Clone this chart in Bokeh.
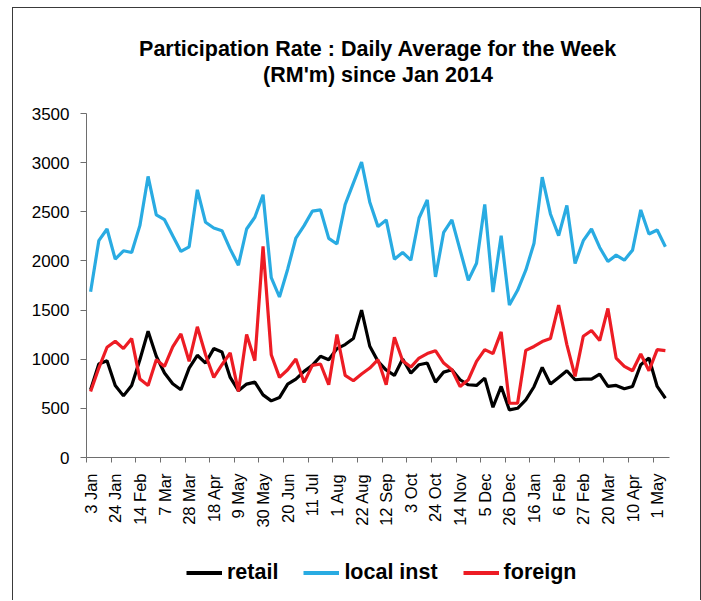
import math
from bokeh.plotting import figure
from bokeh.layouts import column
from bokeh.models import (Range1d, FixedTicker, Title, Legend, LegendItem)
from bokeh.embed import file_html
from bokeh.resources import INLINE

# Weekly data, 3 Jan 2014 .. 8 May 2015 (71 weeks), RM million
retail = [689, 951, 985, 733, 627, 733, 995, 1285, 1030, 859,
          750, 689, 910, 1040, 961, 1108, 1074, 815, 680, 747,
          767, 637, 576, 610, 747, 798, 876, 937, 1030, 995,
          1108, 1149, 1210, 1500, 1132, 978, 890, 835, 1002, 859,
          944, 961, 767, 869, 893, 791, 740, 733, 808, 511,
          723, 484, 501, 586, 720, 917, 747, 815, 883, 791,
          798, 798, 849, 723, 733, 699, 723, 944, 1012, 723,
          603]
local_inst = [1687, 2206, 2325, 2018, 2103, 2086, 2359, 2860, 2468, 2420,
              2257, 2097, 2144, 2724, 2393, 2335, 2308, 2120, 1957, 2325,
              2444, 2673, 1831, 1633, 1916, 2233, 2359, 2506, 2519, 2229,
              2172, 2574, 2792, 3007, 2598, 2349, 2417, 2018, 2086, 2008,
              2437, 2622, 1838, 2291, 2417, 2110, 1803, 1977, 2574, 1684,
              2257, 1551, 1701, 1906, 2180, 2853, 2478, 2257, 2564, 1974,
              2206, 2325, 2137, 1994, 2059, 2008, 2110, 2519, 2274, 2315,
              2144]
foreign = [672, 910, 1122, 1183, 1108, 1210, 798, 733, 995, 927,
           1125, 1258, 978, 1330, 1046, 815, 944, 1064, 672, 1251,
           985, 2148, 1046, 815, 893, 1002, 764, 937, 951, 740,
           1251, 835, 781, 849, 910, 995, 740, 1224, 985, 920,
           1012, 1057, 1087, 961, 893, 723, 791, 978, 1098, 1057,
           1278, 552, 552, 1090, 1130, 1180, 1210, 1551, 1149, 825,
           1234, 1292, 1190, 1517, 1012, 927, 883, 1053, 883, 1098,
           1087]
series_names = ["retail", "local inst", "foreign"]
series_colors = ["#000000", "#29ABE2", "#ED1C24"]
tick_labels = ["3 Jan", "24 Jan", "14 Feb", "7 Mar", "28 Mar", "18 Apr",
               "9 May", "30 May", "20 Jun", "11 Jul", "1 Aug", "22 Aug",
               "12 Sep", "3 Oct", "24 Oct", "14 Nov", "5 Dec", "26 Dec",
               "16 Jan", "6 Feb", "27 Feb", "20 Mar", "10 Apr", "1 May"]
label_step = 3
y_ticks = [0, 500, 1000, 1500, 2000, 2500, 3000, 3500]

n = len(retail)
xs = [i + 0.5 for i in range(n)]

FONT = "Liberation Sans"
AXIS_COLOR = "#6e6e6e"
BORDER = "1px solid #3a3a3a"

# ---------------- main chart ----------------
p = figure(frame_width=581, frame_height=343,
           x_range=Range1d(0, n), y_range=Range1d(0, 3500),
           output_backend="svg", toolbar_location=None,
           min_border_left=73, min_border_right=33,
           min_border_top=105, min_border_bottom=85)
p.margin = (7, 0, 0, 12)
p.styles = {"border-top": BORDER, "border-left": BORDER,
            "border-right": BORDER}
p.outline_line_color = None
p.xgrid.visible = False
p.ygrid.visible = False
p.background_fill_color = "white"
p.border_fill_color = "white"

for vals, col in zip([retail, local_inst, foreign], series_colors):
    p.line(xs, vals, line_color=col, line_width=3.2)

# x axis: labels at category centres, tick marks between categories
centres = [k * label_step + 0.5 for k in range(len(tick_labels))]
bounds = [k * label_step for k in range(len(tick_labels))]
xa = p.xaxis[0]
xa.ticker = FixedTicker(ticks=centres, minor_ticks=bounds)
xa.major_label_overrides = {c: t for c, t in zip(centres, tick_labels)}
xa.major_label_orientation = math.pi / 2
xa.major_tick_line_color = None
xa.minor_tick_line_color = AXIS_COLOR
xa.minor_tick_in = 0
xa.minor_tick_out = 5
xa.axis_line_color = AXIS_COLOR
xa.major_label_text_font = FONT
xa.major_label_text_font_size = "16.5px"
xa.major_label_text_color = "black"
xa.major_label_standoff = 10

ya = p.yaxis[0]
ya.ticker = FixedTicker(ticks=y_ticks)
ya.major_tick_in = 0
ya.major_tick_out = 6
ya.minor_tick_line_color = None
ya.major_tick_line_color = AXIS_COLOR
ya.axis_line_color = AXIS_COLOR
ya.major_label_text_font = FONT
ya.major_label_text_font_size = "17px"
ya.major_label_text_color = "black"
ya.major_label_standoff = 11

# spacer between frame and the title lines
p.add_layout(Title(text=" ", text_font_size="1px", standoff=24), "above")
p.add_layout(Title(text="(RM'm) since Jan 2014", align="center",
                   text_font=FONT, text_font_size="21.5px",
                   text_font_style="bold", text_color="black",
                   standoff=0), "above")
p.add_layout(Title(text="Participation Rate : Daily Average for the Week",
                   align="center", text_font=FONT, text_font_size="21.5px",
                   text_font_style="bold", text_color="black",
                   standoff=0), "above")

# ---------------- legend strip ----------------
p2 = figure(frame_width=687, frame_height=59,
            x_range=Range1d(0, 1), y_range=Range1d(0, 1),
            output_backend="svg", toolbar_location=None,
            x_axis_type=None, y_axis_type=None,
            min_border_left=0, min_border_right=0,
            min_border_top=0, min_border_bottom=0)
p2.margin = (0, 0, 0, 12)
p2.styles = {"border-left": BORDER, "border-right": BORDER}
p2.outline_line_color = None
p2.xgrid.visible = False
p2.ygrid.visible = False
p2.background_fill_color = "white"
p2.border_fill_color = "white"

items = []
for name, col in zip(series_names, series_colors):
    # swatch-only renderer: its points lie outside the strip's ranges
    r = p2.line([-5, -4], [-5, -4], line_color=col, line_width=4)
    items.append(LegendItem(label=name, renderers=[r]))

legend = Legend(items=items, orientation="horizontal", location=(173, 15),
                label_text_font=FONT, label_text_font_size="21.5px",
                label_text_font_style="bold", label_text_color="black",
                glyph_width=36, glyph_height=25, label_standoff=5,
                spacing=25, padding=0, margin=0,
                border_line_color=None, background_fill_alpha=0)
p2.add_layout(legend, "center")

layout = column(p, p2, spacing=0)

open("out.html", "w").write(file_html(layout, INLINE))
